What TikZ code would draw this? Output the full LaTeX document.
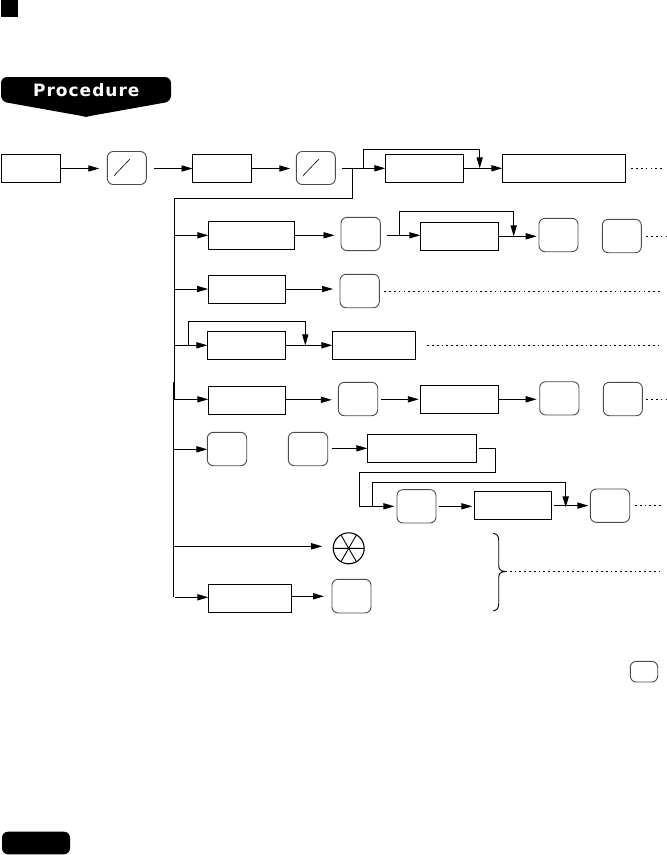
\documentclass[tikz,border=0pt]{standalone}
\usepackage{fontspec}
\newfontfamily\procfont[LetterSpace=6]{DejaVu Sans}
\usetikzlibrary{arrows.meta,calc}
\tikzset{
  boxnode/.style={draw=black,line width=0.9pt,fill=white,inner sep=0pt,outer sep=0pt},
  keynode/.style={draw=black!70,line width=0.9pt,fill=white,rounded corners=6pt,inner sep=0pt,outer sep=0pt},
  conn/.style={line width=0.9pt,draw=black,-{Triangle[length=11pt,width=6.2pt]}},
  plain/.style={line width=0.9pt,draw=black},
  dots/.style={line width=0.9pt,draw=black,dash pattern=on 1.7pt off 3.1pt},
}
\newcommand{\bx}[6]{%
  \pgfmathsetmacro{\cxx}{(#3+#5)/2}\pgfmathsetmacro{\cyy}{(#4+#6)/2}%
  \pgfmathsetmacro{\www}{#5-#3}\pgfmathsetmacro{\hhh}{#6-#4}%
  \node[#1,minimum width=\www pt,minimum height=\hhh pt] (#2) at (\cxx,\cyy) {};}
\begin{document}
\begin{tikzpicture}[x=1pt,y=-1pt]
\useasboundingbox (0,0) rectangle (667,855);
% header marks
\fill[black] (1,0.3) rectangle (17.7,16.7);
\fill[black,rounded corners=6pt] (86,77) -- (171,77) -- (171,101.5) -- (86,116.7) -- (1,101.5) -- (1,77) -- cycle;
\fill[black] (86,110) -- (92,115.6) -- (86,116.9) -- (80,115.6) -- cycle;
\node[text=white,inner sep=0pt,anchor=base,font=\procfont\bfseries\fontsize{17}{17}\selectfont] (proc) at (86.3,96.7) {Procedure};
\fill[black,rounded corners=6pt] (2,831.7) rectangle (70,854.3);
% row 1
\bx{boxnode}{a}{1.5}{154.5}{60.5}{182.5}
\bx{keynode}{ka}{107.3}{151.5}{146.3}{184.5}
\bx{boxnode}{b}{192.5}{154.5}{251.5}{182.5}
\bx{keynode}{kb}{296.3}{151.5}{335.3}{184.5}
\bx{boxnode}{c}{385.3}{154.3}{463.3}{182.3}
\bx{boxnode}{d}{502.3}{154.3}{625.3}{182.3}
\draw[line width=0.6pt,draw=black] ($(ka.center)+(-12.8,7.7)$) -- ($(ka.center)+(3.2,-9)$);
\draw[line width=0.6pt,draw=black] ($(kb.center)+(-12.8,7.7)$) -- ($(kb.center)+(3.2,-9)$);
\draw[conn,shorten >=8pt] (a.east) -- (a.east -| ka.west);
\draw[conn,shorten <=8pt] (ka.east |- b.west) -- (b.west);
\draw[conn,shorten >=6pt] (b.east) -- (b.east -| kb.west);
\coordinate (j1) at (352.7,168.3);
\coordinate (j2) at (363.3,168.3);
\coordinate (c1) at (479.7,168.3);
\draw[conn,shorten <=6.7pt] (kb.east |- j1) -- (j1 -| c.west);
\draw[conn] (j2) |- (479.7,149.3) -- (c1);
\draw[conn] (c.east) -- (d.west);
\draw[dots] ([xshift=6pt]d.east) -- ++(31,0);
% trunk
\coordinate (t1) at (174.3,198.3);
\coordinate (t2) at (174.3,399.3);
\coordinate (t3) at (173.7,382);
\coordinate (t4) at (173.7,597.3);
\draw[plain] (j1) |- (t1) -- (t2);
\draw[plain] (t3) -- (t4);
% row 2
\bx{boxnode}{e}{208.3}{221.3}{294.7}{249.3}
\bx{keynode}{ke}{341}{217.3}{380.3}{250.6}
\bx{boxnode}{f}{420.3}{222.3}{498.3}{250.3}
\bx{keynode}{kf}{539}{218.3}{578}{251.7}
\bx{keynode}{kg}{602.3}{219.3}{641.3}{252.7}
\coordinate (t5) at (174.3,235.3);
\coordinate (j3) at (399.3,235.3);
\coordinate (c2) at (513.7,236.3);
\draw[conn] (t5) -- (t5 -| e.west);
\draw[conn,shorten >=6.5pt] (e.east) -- (e.east -| ke.west);
\draw[conn,shorten <=6.7pt] (ke.east |- j3) -- (j3 -| f.west);
\draw[conn] (j3) |- (513.7,211.3) -- (c2);
\draw[conn,shorten >=2.3pt] (f.east) -- (f.east -| kf.west);
\draw[dots] ([xshift=5pt]kg.east) -- ++(21,0);
% row 3
\bx{boxnode}{g}{208}{275}{285}{303}
\bx{keynode}{kh}{340}{274.3}{379.3}{307.7}
\coordinate (t6) at (174.3,289);
\draw[conn] (t6) -- (t6 -| g.west);
\draw[conn,shorten >=7pt] (g.east) -- (g.east -| kh.west);
\draw[dots] ([xshift=5pt]kh.east) -- ++(277.7,0);
% row 4
\bx{boxnode}{h}{207.3}{331.3}{285.7}{359.3}
\bx{boxnode}{i}{332.3}{331.3}{415.7}{359.3}
\coordinate (t7) at (174.3,345.3);
\coordinate (j4) at (188.3,345.3);
\coordinate (c3) at (305.3,345.3);
\draw[conn] (t7) -- (h.west);
\draw[conn] (j4) |- (305.3,321.3) -- (c3);
\draw[conn] (h.east) -- (i.west);
\draw[dots] ([xshift=11.5pt]i.east) -- ++(235,0);
% row 5
\bx{boxnode}{j}{208.3}{386.3}{285.7}{414.3}
\bx{keynode}{kj}{338.3}{382.3}{377.7}{415.7}
\bx{boxnode}{k}{420.3}{385.3}{498.3}{413.3}
\bx{keynode}{kk}{539.7}{381.7}{579}{415}
\bx{keynode}{kl}{603.3}{382.3}{642.3}{415.7}
\coordinate (t8) at (174,399.3);
\draw[conn] (t8) -- (t8 -| j.west);
\draw[conn,shorten >=6.5pt] ([yshift=0.5pt]j.east) -- ([yshift=0.5pt]j.east -| kj.west);
\draw[conn,shorten <=3.5pt,shorten >=1.5pt] (kj.east |- k.west) -- (k.west);
\draw[conn,shorten >=3pt] (k.east) -- (k.east -| kk.west);
\draw[dots] ([xshift=4pt]kl.east) -- ++(20,0);
% row 6
\bx{keynode}{km}{207.3}{432.3}{246.7}{465.7}
\bx{keynode}{kn}{288.3}{432.3}{327.7}{465.7}
\bx{boxnode}{l}{367.3}{434.3}{476.7}{462.3}
\bx{keynode}{ko}{397}{489.6}{436}{523}
\bx{boxnode}{m}{474.3}{491.6}{551.7}{519.6}
\bx{keynode}{kp}{590.3}{489}{629.7}{522.3}
\coordinate (t9) at (173.7,449.3);
\coordinate (j5) at (372.7,506.3);
\coordinate (c4) at (565.7,505.7);
\draw[conn] (t9) -- (t9 -| km.west);
\draw[conn,shorten <=4.3pt] (kn.east |- l.west) -- (l.west);
\draw[conn,shorten <=2.3pt,shorten >=2.7pt] (l.east) -| (495.3,472.3) -| (359.3,506.3) -- (ko.west);
\draw[conn,shorten <=3.3pt,shorten >=2pt] (ko.east) -- (ko.east -| m.west);
\draw[conn,shorten <=2.3pt,shorten >=2pt] (m.east) -- (m.east -| kp.west);
\draw[conn] (j5) |- (565.7,482.3) -- ([yshift=-1.7pt]c4);
\draw[dots] ([xshift=5.3pt]kp.east) -- ++(27,0);
% row 7
\node[circle,draw=black,line width=1.1pt,fill=white,inner sep=0pt,outer sep=0pt,minimum size=31pt] (w) at (348.7,548.3) {};
\draw[line width=0.9pt] (w.0) -- (w.180) (w.60) -- (w.240) (w.120) -- (w.300);
\coordinate (t10) at (173.7,546.3);
\draw[conn,shorten >=11pt] (t10) -- (t10 -| w.west);
% row 8
\bx{boxnode}{n}{208.3}{584.3}{291.7}{612.3}
\bx{keynode}{kq}{332}{579.3}{371}{613}
\coordinate (t11) at (175,597.3);
\draw[conn] (t11) -- (t11 -| n.west);
\draw[conn,shorten >=8pt] (n.east |- 0,596.3) -- (kq.west |- 0,596.3);
% brace
\coordinate (bt) at (505,571.5);
\draw[line width=0.9pt] (493.3,533.3) .. controls (497,534) and (498.7,536) .. (498.7,540) -- (498.7,565) .. controls (498.7,569) and (500,571) .. (bt) .. controls (500,572) and (498.7,574) .. (498.7,578) -- (498.7,604) .. controls (498.7,608) and (497,610) .. (493.3,611);
\draw[dots] (bt) -- ++(157,0);
% small key
\bx{keynode}{kr}{630.3}{661.3}{657.7}{682}
\end{tikzpicture}
\end{document}
